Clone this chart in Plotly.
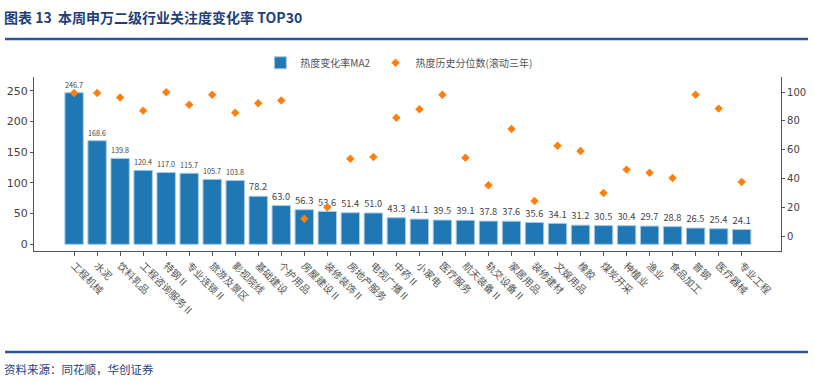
import plotly.graph_objects as go

categories = ["工程机械", "水泥", "饮料乳品", "工程咨询服务Ⅱ", "特钢Ⅱ", "专业连锁Ⅱ", "旅游及景区",
              "影视院线", "基础建设", "个护用品", "房屋建设Ⅱ", "装修装饰Ⅱ", "房地产服务", "电视广播Ⅱ",
              "中药Ⅱ", "小家电", "医疗服务", "航天装备Ⅱ", "轨交设备Ⅱ", "家居用品", "装修建材",
              "文娱用品", "橡胶", "煤炭开采", "种植业", "渔业", "食品加工", "普钢", "医疗器械", "专业工程"]
heat_change = [246.7, 168.6, 139.8, 120.4, 117.0, 115.7, 105.7, 103.8, 78.2, 63.0, 56.3, 53.6, 51.4, 51.0,
               43.3, 41.1, 39.5, 39.1, 37.8, 37.6, 35.6, 34.1, 31.2, 30.5, 30.4, 29.7, 28.8, 26.5, 25.4, 24.1]
heat_pct = [99.5, 99.5, 96.4, 87.2, 100.0, 91.3, 98.3, 85.8, 92.3, 94.3, 12.1, 20.0, 53.8, 55.0,
            82.3, 88.2, 98.3, 54.5, 35.3, 74.5, 24.4, 62.8, 59.1, 29.9, 46.2, 44.0, 40.4, 98.3, 88.6, 37.6]

NAVY = "#1F3F7A"
FONT = "Noto Sans CJK SC"

fig = go.Figure()
fig.add_trace(go.Bar(
    x=categories, y=heat_change, name="热度变化率MA2",
    marker=dict(color="#1F77B4", line=dict(color="#A9CBE6", width=1)),
    width=0.8,
    texttemplate="%{y:.1f}", textposition="outside", cliponaxis=False,
    textfont=dict(size=10, color="#444444", family=FONT),
))
fig.add_trace(go.Scatter(
    x=categories, y=heat_pct, name="热度历史分位数(滚动三年)", mode="markers", yaxis="y2",
    marker=dict(color="#FF7F0E", symbol="diamond", size=6.5),
))

fig.update_layout(
    width=814, height=383,
    margin=dict(l=0, r=0, t=0, b=0),
    paper_bgcolor="white", plot_bgcolor="white",
    font=dict(family=FONT, color="#444444"),
    bargap=0.2,
    showlegend=True,
    legend=dict(orientation="h", x=0.49, xanchor="center", y=0.836, yanchor="middle",
                font=dict(size=10, color="#555555", family=FONT), bgcolor="rgba(0,0,0,0)",
                itemwidth=30, traceorder="normal"),
    xaxis=dict(domain=[0.0418, 0.9595], range=[-1.74, 30.71], tickangle=45,
               tickfont=dict(size=10, color="#555555", family=FONT),
               showline=True, linecolor="#555555", linewidth=1, ticks="outside", ticklen=4,
               tickcolor="#555555", showgrid=False, zeroline=False, automargin=False),
    yaxis=dict(domain=[0.3446, 0.799], range=[-10.9, 272.3], tickvals=[0, 50, 100, 150, 200, 250],
               tickfont=dict(size=11, color="#444444", family="DejaVu Sans"),
               showline=True, linecolor="#555555", linewidth=1, ticks="outside", ticklen=3,
               tickcolor="#555555", showgrid=False, zeroline=False, automargin=False),
    yaxis2=dict(overlaying="y", side="right", anchor="x", range=[-10.4, 110.6],
                tickvals=[0, 20, 40, 60, 80, 100],
                tickfont=dict(size=10, color="#444444", family="DejaVu Sans"),
                showline=True, linecolor="#555555", linewidth=1, ticks="outside", ticklen=3,
                tickcolor="#555555", showgrid=False, zeroline=False, automargin=False),
)

fig.add_annotation(text="<b>图表 13  本周申万二级行业关注度变化率 TOP30</b>", xref="paper", yref="paper",
                   x=2 / 814, y=1 - 17 / 383, xanchor="left", yanchor="middle", showarrow=False,
                   font=dict(size=14, color=NAVY, family=FONT))
fig.add_annotation(text="资料来源：同花顺，华创证券", xref="paper", yref="paper",
                   x=2 / 814, y=1 - 369 / 383, xanchor="left", yanchor="middle", showarrow=False,
                   font=dict(size=11.5, color=NAVY, family=FONT))
fig.add_shape(type="line", xref="paper", yref="paper", x0=5 / 814, x1=808 / 814,
              y0=1 - 39 / 383, y1=1 - 39 / 383, line=dict(color="#2B579A", width=2.5))
fig.add_shape(type="line", xref="paper", yref="paper", x0=5 / 814, x1=808 / 814,
              y0=1 - 352 / 383, y1=1 - 352 / 383, line=dict(color="#2B579A", width=2.5))

fig.write_html("out.html", config={"displayModeBar": False},
               post_script="document.body.style.margin='0';document.body.style.overflow='hidden';")
